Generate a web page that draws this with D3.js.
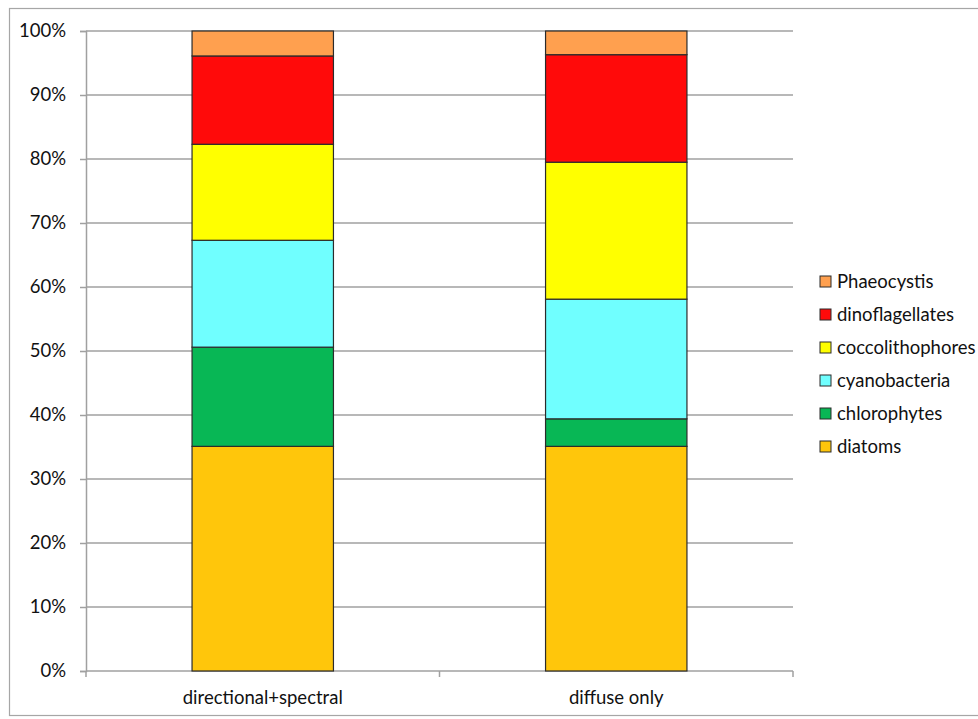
<!DOCTYPE html>
<html>
<head>
<meta charset="utf-8">
<script src="https://cdn.jsdelivr.net/npm/d3@7"></script>
<style>
  body { margin: 0; background: #fff; }
  svg text { font-family: Lato, "Open Sans", sans-serif; fill: #111; }
</style>
</head>
<body>
<div id="chart"></div>
<script>
// categories on the x axis
var scenarios = ["directional+spectral", "diffuse only"];
// stacked groups, bottom to top
var groups = ["diatoms", "chlorophytes", "cyanobacteria", "coccolithophores", "dinoflagellates", "Phaeocystis"];
var groupColors = ["#FFC60B", "#08B755", "#70FFFF", "#FFFF00", "#FF0A0A", "#FFA04F"];
// share of each group (%) per scenario, same order as groups
var directionalSpectral = [35.1, 15.5, 16.7, 15.0, 13.8, 3.9];
var diffuseOnly = [35.1, 4.3, 18.7, 21.4, 16.8, 3.7];
var yTicks = [0, 10, 20, 30, 40, 50, 60, 70, 80, 90, 100];

var width = 978, height = 719;
var margin = {top: 31, left: 86, right: 185, bottom: 48};
var fontSize = "18.5px";

var svg = d3.select("#chart").append("svg")
    .attr("width", width)
    .attr("height", height);

// outer frame
svg.append("rect")
    .attr("x", 9.5).attr("y", 8.5)
    .attr("width", width + 20).attr("height", 707)
    .attr("fill", "none")
    .attr("stroke", "#a6a6a6")
    .attr("stroke-width", 1.2);

var x = d3.scaleBand()
    .domain(scenarios)
    .range([margin.left, width - margin.right])
    .padding(0);

var y = d3.scaleLinear()
    .domain([0, 100])
    .range([height - margin.bottom, margin.top]);

// build stacked table
var rows = scenarios.map(function(s, i) {
    var vals = i == 0 ? directionalSpectral : diffuseOnly;
    var row = {scenario: s};
    groups.forEach(function(g, j) { row[g] = vals[j]; });
    return row;
});
var stacked = d3.stack().keys(groups)(rows);

// gridlines
svg.append("g")
    .selectAll("line")
    .data(yTicks.slice(1))
    .enter().append("line")
    .attr("x1", margin.left)
    .attr("x2", width - margin.right)
    .attr("y1", function(d) { return y(d); })
    .attr("y2", function(d) { return y(d); })
    .attr("stroke", "#a0a0a0")
    .attr("stroke-width", 1.5);

// y axis
var yAxis = svg.append("g")
    .attr("transform", "translate(" + margin.left + ",0)")
    .call(d3.axisLeft(y).tickValues(yTicks).tickSize(6).tickPadding(14)
        .tickFormat(function(d) { return d + "%"; }));
yAxis.selectAll("text").style("font-size", fontSize);
yAxis.selectAll("line").attr("stroke", "#a0a0a0").attr("stroke-width", 1.5);
yAxis.select(".domain").attr("stroke", "#a0a0a0").attr("stroke-width", 1.5);

// x axis with ticks on the category boundaries
var xAxis = svg.append("g")
    .attr("transform", "translate(0," + y(0) + ")");
xAxis.append("line")
    .attr("x1", margin.left).attr("x2", width - margin.right)
    .attr("stroke", "#a0a0a0").attr("stroke-width", 1.5);
var bounds = scenarios.map(function(s) { return x(s); }).concat([x(scenarios[1]) + x.bandwidth()]);
xAxis.selectAll("line.tick")
    .data(bounds)
    .enter().append("line")
    .attr("class", "tick")
    .attr("x1", function(d) { return d; })
    .attr("x2", function(d) { return d; })
    .attr("y1", 0).attr("y2", 6)
    .attr("stroke", "#a0a0a0").attr("stroke-width", 1.5);
xAxis.selectAll("text")
    .data(scenarios)
    .enter().append("text")
    .attr("x", function(d) { return x(d) + x.bandwidth() / 2; })
    .attr("y", 33)
    .attr("text-anchor", "middle")
    .style("font-size", fontSize)
    .text(function(d) { return d; });

// bars
var barWidth = x.bandwidth() * 0.4;
svg.append("g")
    .selectAll("g")
    .data(stacked)
    .enter().append("g")
    .attr("fill", function(d, i) { return groupColors[i]; })
    .selectAll("rect")
    .data(function(d) { return d; })
    .enter().append("rect")
    .attr("x", function(d) { return x(d.data.scenario) + (x.bandwidth() - barWidth) / 2; })
    .attr("width", barWidth)
    .attr("y", function(d) { return y(d[1]); })
    .attr("height", function(d) { return y(d[0]) - y(d[1]); })
    .attr("stroke", "#2b2b2b")
    .attr("stroke-width", 1.2);

// legend, top entry is the top of the stack
var legendItems = groups.slice().reverse();
var legend = svg.append("g")
    .attr("transform", "translate(820,282)")
    .selectAll("g")
    .data(legendItems)
    .enter().append("g")
    .attr("transform", function(d, i) { return "translate(0," + i * 33 + ")"; });
legend.append("rect")
    .attr("x", 0).attr("y", -6)
    .attr("width", 11).attr("height", 11)
    .attr("fill", function(d) { return groupColors[groups.indexOf(d)]; })
    .attr("stroke", "#2b2b2b")
    .attr("stroke-width", 1);
legend.append("text")
    .attr("x", 17).attr("y", 0)
    .attr("dy", "0.35em")
    .style("font-size", fontSize)
    .text(function(d) { return d; });
</script>
</body>
</html>
